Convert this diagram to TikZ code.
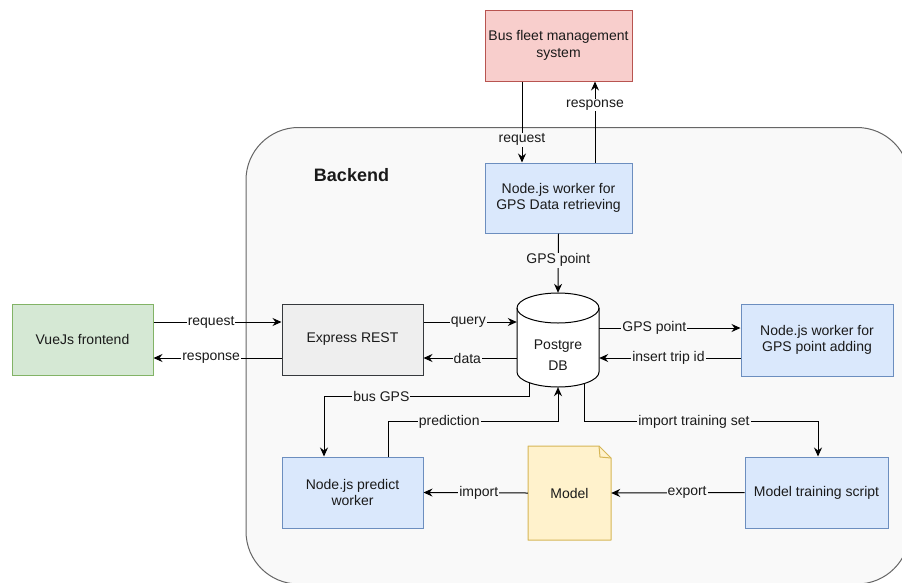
\documentclass[tikz,border=0pt]{standalone}
\usepackage{fontspec}
\setmainfont{Liberation Sans}
\usetikzlibrary{arrows.meta}
\definecolor{redfill}{HTML}{F8CECC}
\definecolor{redline}{HTML}{B85450}
\definecolor{bluefill}{HTML}{DAE8FC}
\definecolor{blueline}{HTML}{6C8EBF}
\definecolor{greenfill}{HTML}{D5E8D4}
\definecolor{greenline}{HTML}{82B366}
\definecolor{yelfill}{HTML}{FFF2CC}
\definecolor{yelline}{HTML}{D6B656}
\definecolor{grayfill}{HTML}{EEEEEE}
\definecolor{grayline}{HTML}{36393D}
\definecolor{bgfill}{HTML}{F9F9F9}
\definecolor{bgline}{HTML}{666666}
\definecolor{txt}{HTML}{1A1A1A}
\begin{document}
\begin{tikzpicture}[x=1pt,y=-1pt,
  box/.style={draw, line width=1pt, align=center, inner sep=0pt, text=txt,
    font=\fontsize{14}{16.5}\selectfont},
  redbox/.style={box, fill=redfill, draw=redline},
  bluebox/.style={box, fill=bluefill, draw=blueline},
  greenbox/.style={box, fill=greenfill, draw=greenline},
  graybox/.style={box, fill=grayfill, draw=grayline},
  arr/.style={draw=black, line width=1pt, -{Stealth[length=9pt,width=8pt,inset=3pt]}},
  lbl/.style={fill=bgfill, inner sep=1pt, text=txt, font=\fontsize{14}{16}\selectfont},
  lblw/.style={lbl, fill=white}
]
\useasboundingbox (0,0) rectangle (902,582);
\clip (0,0) rectangle (902,582);
\fill[white] (0,0) rectangle (902,582);
% backend container
\draw[fill=bgfill, draw=bgline, line width=1pt, rounded corners=52.5pt] (246,127.5) rectangle (909.5,584);
\node[font=\bfseries\fontsize{18}{20}\selectfont, text=txt] (backend) at (351.5,175) {Backend};

% nodes
\node[redbox, minimum width=147pt, minimum height=71pt] (bus) at (558.5,45.5) {Bus fleet management\\system};
\node[bluebox, minimum width=147pt, minimum height=70pt] (gps) at (558.5,198) {Node.js worker for\\GPS Data retrieving};
\node[greenbox, minimum width=141pt, minimum height=71pt] (vue) at (82.5,339.5) {VueJs frontend};
\node[graybox, minimum width=141pt, minimum height=71pt] (express) at (352.5,339.5) {Express REST};
\node[bluebox, minimum width=152pt, minimum height=72pt] (gpsadd) at (817,340) {Node.js worker for\\GPS point adding};
\node[bluebox, minimum width=141pt, minimum height=71pt] (predict) at (352.5,492.5) {Node.js predict\\worker};
\node[bluebox, minimum width=143pt, minimum height=71pt] (training) at (816.5,492.5) {Model training script};

% model note
\filldraw[fill=yelfill, draw=yelline, line width=1pt, line join=round]
  (528,446) -- (599,446) -- (611,458) -- (611,540) -- (528,540) -- cycle;
\draw[draw=yelline, line width=1pt, line join=round] (599,446) -- (600,457) -- (611,458);
\node[minimum width=83pt, minimum height=94pt, inner sep=0pt, text=txt,
  font=\fontsize{14}{16.5}\selectfont] (model) at (569.5,493) {Model};

% database cylinder
\filldraw[fill=white, draw=black, line width=1pt]
  (517,308) -- (517,372) arc[start angle=180, end angle=360, x radius=41pt, y radius=15pt]
  -- (599,308) arc[start angle=0, end angle=180, x radius=41pt, y radius=15pt] -- cycle;
\draw[line width=1pt] (517,308) arc[start angle=180, end angle=360, x radius=41pt, y radius=15pt];
\node[minimum width=82pt, minimum height=94pt, inner sep=0pt] (db) at (558,340) {};
\node[align=center, inner sep=0pt, text=txt, font=\fontsize{14}{21}\selectfont] (dbtext) at (558,355) {Postgre\\DB};
\coordinate (dbb1) at (529,382.6);
\coordinate (dbb3) at (584,383.6);

% connectors
\draw[arr] ([xshift=-36.5pt]bus.south) -- node[lbl, pos=0.72]{request} ([xshift=-36.5pt]gps.north);
\draw[arr] ([xshift=36.5pt]gps.north) -- node[lblw, pos=0.707]{response} ([xshift=36.5pt]bus.south);
\draw[arr] (gps.south) -- node[lbl, pos=0.45]{GPS point} (db.north);

\draw[arr] ([yshift=17.5pt]vue.east) -- node[lblw, pos=0.45]{request} ([yshift=17.5pt]express.west);
\draw[arr] ([yshift=-18.5pt]express.west) -- node[lblw, pos=0.55]{response} ([yshift=-18.5pt]vue.east);

\draw[arr] ([yshift=17.5pt]express.east) -- node[lbl, pos=0.48]{query} ([yshift=18pt]db.west);
\draw[arr] ([yshift=-18pt]db.west) -- node[lbl, pos=0.53]{data} ([yshift=-18.5pt]express.east);

\draw[arr] ([yshift=12pt]db.east) -- node[lbl, pos=0.39]{GPS point} ([yshift=12pt]gpsadd.west);
\draw[arr] ([yshift=-18pt]gpsadd.west) -- node[lbl, pos=0.51]{insert trip id} ([yshift=-18pt]db.east);

\draw[arr] (dbb1) |- node[lbl, pos=0.86]{bus GPS} ([xshift=-28.5pt,yshift=60pt]predict.north) -- ([xshift=-28.5pt]predict.north);
\draw[arr] ([xshift=35.5pt]predict.north) -- ([xshift=35.5pt,yshift=35pt]predict.north) -| node[lbl, pos=0.18]{prediction} (db.south);
\draw[arr] (dbb3) |- node[lbl, pos=0.735]{import training set} ([xshift=1.5pt,yshift=35pt]training.north) -- ([xshift=1.5pt]training.north);

\draw[arr] (training.west) -- node[lbl, pos=0.43]{export} (model.east);
\draw[arr] (model.west) -- node[lbl, pos=0.47]{import} (predict.east);
\end{tikzpicture}
\end{document}
